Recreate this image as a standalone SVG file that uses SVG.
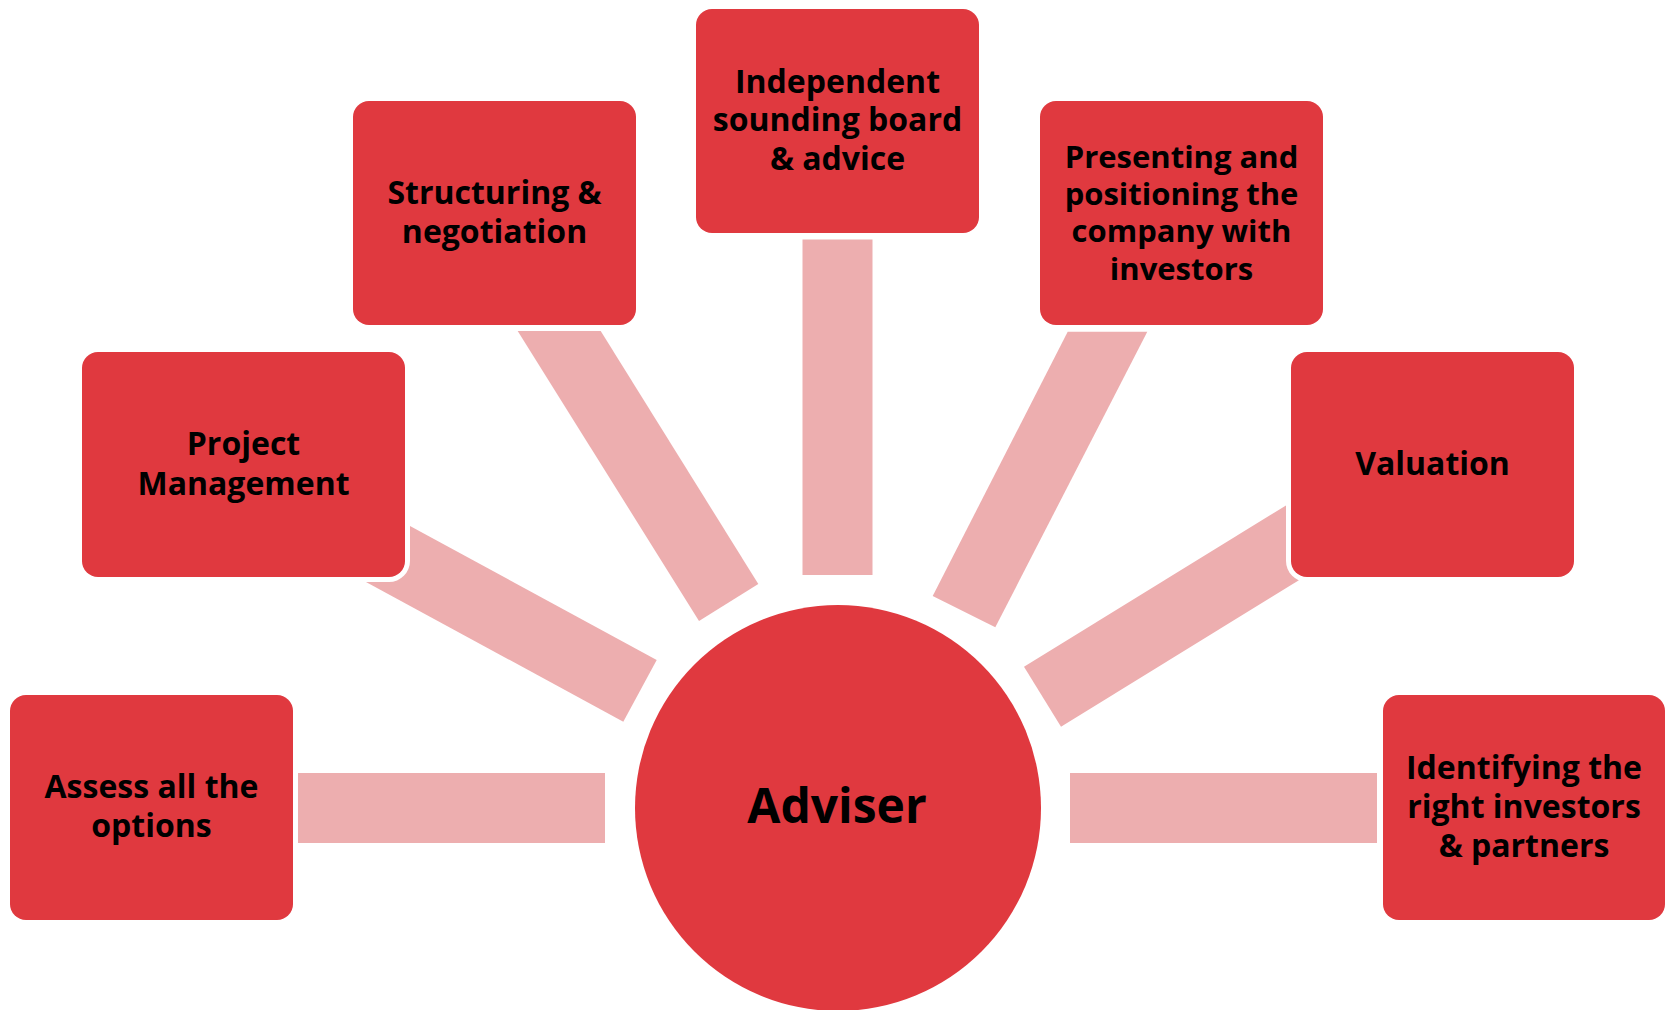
<svg xmlns="http://www.w3.org/2000/svg" width="1669" height="1010" viewBox="0 0 1669 1010">
  <style>
    .bar { fill: #EDAEAF; }
    .box { fill: #E0393F; }
    .halo { fill: #FFFFFF; }
    .label { font-family: "Open Sans", "Noto Sans", "Liberation Sans", sans-serif; font-weight: 700; font-size: 32px; fill: #000000; text-anchor: middle; }
    .label-fit { font-size: 31px; }
    .hub-label { font-size: 48px; }
  </style>
  <rect width="1669" height="1010" fill="#FFFFFF"/>

  <!-- spokes from the hub to each service box -->
  <g id="connectors">
    <rect class="bar" x="298" y="773" width="307" height="70"/>
    <polygon class="bar" points="366.7,502.5 656.7,660 623.3,721.7 333.3,564.2"/>
    <polygon class="bar" points="517.7,331 600.7,331 758.3,584 699,621"/>
    <rect class="bar" x="802.5" y="239.5" width="70" height="335.5"/>
    <polygon class="bar" points="1067.7,331.7 1147.3,331.7 995.3,627.3 932.7,596"/>
    <polygon class="bar" points="1024,666.7 1305,493.8 1342,553.8 1061,726.7"/>
    <rect class="bar" x="1070" y="773" width="307" height="70"/>
  </g>

  <g id="hub">
    <circle class="box" cx="838" cy="808" r="203"/>
    <text class="label hub-label" x="837" y="823">Adviser</text>
  </g>

  <g id="assess-options">
    <rect class="halo" x="5" y="690" width="293" height="235" rx="21"/>
    <rect class="box" x="10" y="695" width="283" height="225" rx="16"/>
    <text class="label" x="151.5" y="798">Assess all the<tspan x="151.5" dy="39">options</tspan></text>
  </g>

  <g id="project-management">
    <rect class="halo" x="77" y="347" width="333" height="235" rx="21"/>
    <rect class="box" x="82" y="352" width="323" height="225" rx="16"/>
    <text class="label" x="243.5" y="455">Project<tspan x="243.5" dy="40">Management</tspan></text>
  </g>

  <g id="structuring-negotiation">
    <rect class="halo" x="348" y="96" width="293" height="234" rx="21"/>
    <rect class="box" x="353" y="101" width="283" height="224" rx="16"/>
    <text class="label" x="494.5" y="203.5">Structuring &amp;<tspan x="494.5" dy="39.5">negotiation</tspan></text>
  </g>

  <g id="sounding-board">
    <rect class="halo" x="691" y="4" width="293" height="234" rx="21"/>
    <rect class="box" x="696" y="9" width="283" height="224" rx="16"/>
    <text class="label" x="837.5" y="92.5">Independent<tspan x="837.5" dy="38.8">sounding board</tspan><tspan x="837.5" dy="38.8">&amp; advice</tspan></text>
  </g>

  <g id="presenting-positioning">
    <rect class="halo" x="1035" y="96" width="293" height="234" rx="21"/>
    <rect class="box" x="1040" y="101" width="283" height="224" rx="16"/>
    <text class="label label-fit" x="1181.5" y="167.5">Presenting and<tspan x="1181.5" dy="37.4">positioning the</tspan><tspan x="1181.5" dy="37.4">company with</tspan><tspan x="1181.5" dy="37.4">investors</tspan></text>
  </g>

  <g id="valuation">
    <rect class="halo" x="1286" y="347" width="293" height="235" rx="21"/>
    <rect class="box" x="1291" y="352" width="283" height="225" rx="16"/>
    <text class="label" x="1432.5" y="475">Valuation</text>
  </g>

  <g id="investors-partners">
    <rect class="halo" x="1378" y="690" width="292" height="235" rx="21"/>
    <rect class="box" x="1383" y="695" width="282" height="225" rx="16"/>
    <text class="label" x="1524" y="779">Identifying the<tspan x="1524" dy="39">right investors</tspan><tspan x="1524" dy="39">&amp; partners</tspan></text>
  </g>
</svg>
